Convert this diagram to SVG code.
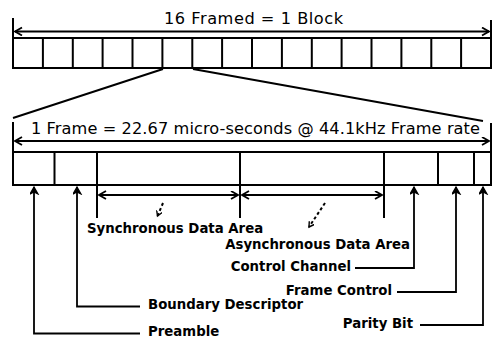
<svg xmlns="http://www.w3.org/2000/svg" width="494" height="339" viewBox="0 0 494 339">
<style>
.bx{fill:none;stroke:#000;stroke-width:2}
.ln{fill:none;stroke:#000;stroke-width:2}
.ar{fill:none;stroke:#000;stroke-width:1.8}
.ds{fill:none;stroke:#000;stroke-width:2;stroke-dasharray:3 2.5}
.t1{font-family:"DejaVu Sans",sans-serif;font-size:16.2px;fill:#000}
.lb{font-family:"DejaVu Sans",sans-serif;font-weight:bold;font-size:13.3px;fill:#000}
</style>
<defs>
<marker id="ah" markerUnits="userSpaceOnUse" markerWidth="12" markerHeight="12" refX="8" refY="4.5" orient="auto-start-reverse" viewBox="0 0 12 12">
<path d="M1,0.5 L8,4.5 L1,8.5" fill="none" stroke="#000" stroke-width="1.8"/>
</marker>
<marker id="up" markerUnits="userSpaceOnUse" markerWidth="12" markerHeight="12" refX="8" refY="4.5" orient="auto" viewBox="0 0 12 12">
<path d="M1,0.5 L8,4.5 L1,8.5 L3,4.5 Z" fill="#000" stroke="#000" stroke-width="1.2"/>
</marker>
<marker id="sm" markerUnits="userSpaceOnUse" markerWidth="8" markerHeight="8" refX="5" refY="3" orient="auto" viewBox="0 0 8 8">
<path d="M0,0 L5,3 L0,6" fill="none" stroke="#000" stroke-width="1.4"/>
</marker>
</defs>

<g id="block">
<text class="t1" x="164" y="23.5" textLength="179" lengthAdjust="spacing">16 Framed = 1 Block</text>
<rect class="bx" x="13" y="38" width="478" height="30"/>
<path class="bx" d="M42.9,38V68M72.8,38V68M102.6,38V68M132.5,38V68M162.4,38V68M192.3,38V68M222.1,38V68M252,38V68M281.9,38V68M311.8,38V68M341.6,38V68M371.5,38V68M401.4,38V68M431.3,38V68M461.1,38V68"/>
</g>

<g id="frame">
<text class="t1" x="31" y="133.5" textLength="449" lengthAdjust="spacing">1 Frame = 22.67 micro-seconds @ 44.1kHz Frame rate</text>
<rect class="bx" x="13" y="152" width="478" height="33"/>
<path class="bx" d="M54.5,152V185M438,152V185M474,152V185"/>
</g>

<g id="connectors">
<path class="ln" d="M13,18V38M491,20V38"/>
<line class="ar" x1="15" y1="31.5" x2="489" y2="31.5" marker-start="url(#ah)" marker-end="url(#ah)"/>
<path class="ln" stroke-width="2.5" d="M163,69L13,118M193,69L483,121"/>
<path class="ln" d="M13,122V152M491,123V152"/>
<line class="ar" x1="15" y1="141" x2="489" y2="141" marker-start="url(#ah)" marker-end="url(#ah)"/>
<path class="ln" d="M97,152V218M384,152V218"/>
<path class="ln" stroke-width="1.6" d="M240,152V218"/>
<line class="ar" x1="99" y1="195" x2="238" y2="195" marker-start="url(#ah)" marker-end="url(#ah)"/>
<line class="ar" x1="242" y1="195" x2="382" y2="195" marker-start="url(#ah)" marker-end="url(#ah)"/>
<line class="ds" x1="163" y1="203" x2="157.5" y2="216" marker-end="url(#sm)"/>
<line class="ds" x1="325" y1="203" x2="309" y2="227" marker-end="url(#sm)"/>
<polyline class="ar" points="140,333.5 34,333.5 34,187" marker-end="url(#up)"/>
<polyline class="ar" points="140,306.5 77,306.5 77,187" marker-end="url(#up)"/>
<polyline class="ar" points="355,268 414,268 414,187" marker-end="url(#up)"/>
<polyline class="ar" points="397,292 456,292 456,187" marker-end="url(#up)"/>
<polyline class="ar" points="420,325 483,325 483,187" marker-end="url(#up)"/>
</g>

<g id="sync"><text class="lb" x="87" y="232.5">Synchronous Data Area</text></g>
<g id="async"><text class="lb" x="410" y="249" text-anchor="end">Asynchronous Data Area</text></g>
<g id="control-channel"><text class="lb" x="351" y="271" text-anchor="end">Control Channel</text></g>
<g id="frame-control"><text class="lb" x="392" y="294.5" text-anchor="end">Frame Control</text></g>
<g id="boundary"><text class="lb" x="148" y="309">Boundary Descriptor</text></g>
<g id="parity"><text class="lb" x="413" y="327.5" text-anchor="end">Parity Bit</text></g>
<g id="preamble"><text class="lb" x="148" y="336">Preamble</text></g>
</svg>
